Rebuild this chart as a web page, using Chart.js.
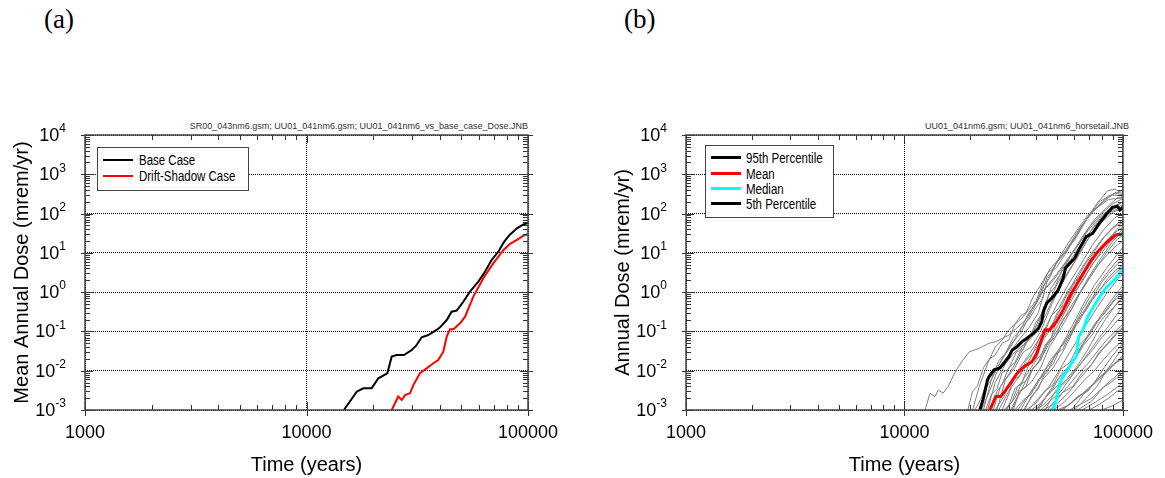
<!DOCTYPE html>
<html>
<head>
<meta charset="utf-8">
<script src="https://cdn.jsdelivr.net/npm/chart.js@4.4.1/dist/chart.umd.min.js"></script>
<style>
  body { margin:0; background:#fff; width:1165px; height:478px; position:relative; overflow:hidden;
         font-family:"Liberation Sans", Arial, sans-serif; }
  canvas { position:absolute; top:0; }
  .tag { position:absolute; top:4px; font-family:"Liberation Serif","Times New Roman",serif; font-size:27px; }
  .src { position:absolute; top:121px; font-size:9px; color:#333; white-space:nowrap; transform:translateX(-100%); }
  .legend { position:absolute; border:1px solid #444; background:#fff; font-size:14px; }
  .legend .row { position:absolute; left:0; height:16px; line-height:16px; white-space:nowrap; }
  .legend .swatch { position:absolute; left:5px; width:30px; }
  .legend .lbl { position:absolute; display:inline-block; transform:scaleX(0.82); transform-origin:0 50%; }
</style>
</head>
<body>
<div class="tag" style="left:44px">(a)</div>
<div class="tag" style="left:624px">(b)</div>
<div class="src" style="left:528px">SR00_043nm6.gsm; UU01_041nm6.gsm; UU01_041nm6_vs_base_case_Dose.JNB</div>
<div class="src" style="left:1129px">UU01_041nm6.gsm; UU01_041nm6_horsetail.JNB</div>
<canvas id="chart-a" width="582" height="478" style="left:0"></canvas>
<canvas id="chart-b" width="583" height="478" style="left:582px"></canvas>

<div class="legend" style="left:97px;top:147px;width:150px;height:42px">
  <div class="row" style="top:4px"><span class="swatch" style="top:7px;height:2px;background:#000"></span><span class="lbl" style="left:41px">Base Case</span></div>
  <div class="row" style="top:20px"><span class="swatch" style="top:7px;height:2px;background:#f00"></span><span class="lbl" style="left:41px">Drift-Shadow Case</span></div>
</div>
<div class="legend" style="left:705px;top:145px;width:127px;height:71px">
  <div class="row" style="top:4px"><span class="swatch" style="top:6px;height:3px;background:#000"></span><span class="lbl" style="left:40px">95th Percentile</span></div>
  <div class="row" style="top:20px"><span class="swatch" style="top:6px;height:3px;background:#f00"></span><span class="lbl" style="left:40px">Mean</span></div>
  <div class="row" style="top:35px"><span class="swatch" style="top:6px;height:3px;background:#0ff"></span><span class="lbl" style="left:40px">Median</span></div>
  <div class="row" style="top:50px"><span class="swatch" style="top:6px;height:3px;background:#000"></span><span class="lbl" style="left:40px">5th Percentile</span></div>
</div>

<script>
// ---- axes ----
const timeTicks = [1000, 10000, 100000];
const doseTicks = [1e-3, 1e-2, 1e-1, 1e0, 1e1, 1e2, 1e3, 1e4];

// ---- (a) mean annual dose, [years, mrem/yr] ----
const baseCase = [[14750,0.001],[16850,0.00293],[18050,0.00356],[19680,0.00356],[21090,0.0064],[23170,0.0086],
  [24240,0.0228],[25520,0.025],[27540,0.025],[29850,0.0337],[31190,0.0427],[33110,0.071],[35480,0.081],
  [38660,0.109],[40060,0.127],[42960,0.195],[45200,0.318],[47640,0.34],[51050,0.57],[54700,1.03],[59660,1.86],
  [63250,3.0],[68520,6.6],[73450,10.7],[77930,19],[82600,28.5],[89100,42],[95000,52],[100000,59]];
const driftShadow = [[24260,0.001],[25950,0.0022],[26900,0.0018],[27860,0.0024],[29330,0.00266],[30360,0.0043],
  [32540,0.0086],[34880,0.0115],[37360,0.0155],[39350,0.0186],[41460,0.0305],[42960,0.074],[44460,0.113],
  [46050,0.113],[49350,0.161],[52000,0.238],[56640,0.77],[62850,2.25],[69660,5.4],[77360,11.7],[83000,17],
  [89100,21.5],[95000,27],[100000,30]];

// ---- (b) horsetail statistics ----
const pct95 = [[22130,0.001],[22900,0.00187],[23980,0.0058],[24380,0.0071],[25700,0.0105],[27270,0.0116],
  [28510,0.0155],[30060,0.0228],[31130,0.0338],[32800,0.041],[34520,0.055],[36380,0.067],[38990,0.09],
  [41060,0.12],[42500,0.177],[43240,0.318],[44780,0.52],[47990,0.77],[50500,1.13],[53210,2.25],[54560,4.05],
  [57050,5.4],[60100,7.3],[63290,13],[67880,25.9],[72700,31.6],[77910,56],[83490,92],[89470,145],[94250,155],
  [96800,123],[100000,145]];
const meanDose = [[24560,0.001],[26170,0.0022],[27560,0.0022],[29040,0.0032],[30580,0.0048],[32800,0.0086],
  [35080,0.0125],[38280,0.017],[40350,0.0277],[41790,0.05],[43980,0.109],[46350,0.112],[49660,0.177],
  [53210,0.35],[58040,0.93],[64430,2.48],[70240,5.4],[76630,10.7],[84950,19.2],[92600,28.5],[100000,30]];
const medianDose = [[47990,0.001],[50230,0.00266],[51400,0.0048],[53210,0.0071],[56080,0.0105],[59060,0.0187],
  [61150,0.0228],[62720,0.074],[65530,0.109],[69010,0.238],[72650,0.39],[76530,0.63],[82040,1.13],
  [87900,1.68],[94250,2.48],[100000,4.3]];
const pct05 = [];

// individual realizations (grey)
const realizations = [
  [[12420,0.001],[13090,0.00266],[13780,0.0022],[14270,0.0032],[15030,0.0027],[15850,0.004],[17270,0.0105],
   [18510,0.0187],[19830,0.0305],[21980,0.037],[24380,0.05],[26170,0.055],[30000,0.08],[36000,0.2],[42000,0.9],
   [50000,3],[60000,12],[70000,40],[80000,90],[90000,150],[100000,200]],
  [[20500,0.001],[22000,0.004],[24000,0.015],[26000,0.04],[28000,0.06],[30000,0.11],[32000,0.15],[35000,0.24],
   [40000,0.6],[43000,1.7],[46000,3.7],[52000,8],[60000,21],[68000,70],[76000,180],[85000,380],[92000,420],
   [96000,360],[100000,400]],
  [[23000,0.001],[25000,0.006],[28000,0.02],[31000,0.05],[34000,0.09],[38000,0.3],[42000,0.8],[45000,2.5],
   [50000,4.5],[56000,12],[63000,40],[72000,110],[82000,220],[92000,330],[100000,300]],
  [[22500,0.001],[24500,0.003],[27000,0.012],[30000,0.025],[34000,0.07],[37000,0.12],[41000,0.3],[44000,1.2],
   [48000,2],[54000,5],[62000,15],[70000,45],[80000,100],[90000,180],[100000,240]],
  [[25500,0.001],[27500,0.004],[30000,0.008],[33000,0.02],[36000,0.05],[40000,0.09],[44000,0.25],[48000,0.7],
   [53000,2],[60000,6],[68000,20],[78000,60],[88000,120],[100000,170]],
  [[27000,0.001],[30000,0.003],[33000,0.01],[37000,0.025],[41000,0.06],[45000,0.15],[50000,0.5],[56000,1.5],
   [64000,5],[72000,15],[82000,40],[92000,80],[100000,100]],
  [[29000,0.001],[32000,0.002],[35000,0.006],[39000,0.015],[43000,0.03],[47000,0.07],[52000,0.2],[58000,0.6],
   [65000,2],[74000,6],[84000,18],[94000,40],[100000,55]],
  [[31000,0.001],[34000,0.003],[38000,0.005],[42000,0.012],[46000,0.04],[51000,0.1],[57000,0.3],[63000,0.9],
   [70000,2.5],[80000,8],[90000,20],[100000,35]],
  [[33000,0.001],[36000,0.002],[40000,0.004],[44000,0.01],[48000,0.02],[53000,0.05],[59000,0.15],[66000,0.5],
   [74000,1.5],[84000,4],[94000,9],[100000,14]],
  [[35000,0.001],[39000,0.0025],[43000,0.006],[48000,0.012],[53000,0.03],[58000,0.08],[64000,0.25],[72000,0.7],
   [80000,1.8],[90000,4],[100000,7]],
  [[37000,0.001],[41000,0.002],[46000,0.004],[51000,0.01],[56000,0.025],[62000,0.06],[68000,0.15],[76000,0.4],
   [85000,1],[95000,2.2],[100000,3]],
  [[40000,0.001],[44000,0.002],[49000,0.005],[54000,0.009],[60000,0.02],[66000,0.05],[73000,0.12],[82000,0.3],
   [92000,0.7],[100000,1.2]],
  [[42000,0.001],[47000,0.0018],[52000,0.003],[58000,0.007],[64000,0.015],[70000,0.03],[78000,0.07],[87000,0.15],
   [95000,0.3],[100000,0.45]],
  [[45000,0.001],[50000,0.002],[56000,0.004],[62000,0.008],[69000,0.015],[76000,0.03],[84000,0.06],[92000,0.1],
   [100000,0.15]],
  [[48000,0.001],[54000,0.0016],[60000,0.003],[67000,0.006],[74000,0.01],[82000,0.02],[90000,0.035],[100000,0.06]],
  [[52000,0.001],[58000,0.0015],[65000,0.0025],[72000,0.004],[80000,0.007],[88000,0.012],[95000,0.018],[100000,0.025]],
  [[57000,0.001],[64000,0.0014],[72000,0.002],[80000,0.0035],[88000,0.005],[100000,0.009]],
  [[65000,0.001],[75000,0.0016],[85000,0.0025],[95000,0.004],[100000,0.005]],
  [[24000,0.001],[26000,0.005],[29000,0.015],[32000,0.03],[35000,0.045],[39000,0.1],[43000,0.35],[47000,1.3],
   [52000,3],[58000,9],[65000,25],[74000,70],[84000,140],[94000,250],[100000,260]],
  [[26500,0.001],[29000,0.006],[32000,0.012],[35000,0.03],[38000,0.04],[42000,0.1],[46000,0.35],[50000,1],
   [56000,3],[63000,9],[71000,28],[80000,60],[90000,110],[100000,130]],
  [[28000,0.001],[31000,0.004],[35000,0.01],[39000,0.03],[44000,0.08],[49000,0.2],[55000,0.8],[62000,2.8],
   [70000,8],[80000,22],[90000,45],[100000,70]],
  [[30500,0.001],[34000,0.003],[38000,0.01],[42000,0.02],[47000,0.06],[52000,0.15],[58000,0.45],[65000,1.2],
   [74000,3.5],[84000,10],[94000,22],[100000,28]],
  [[34000,0.001],[38000,0.003],[42000,0.007],[47000,0.02],[52000,0.04],[58000,0.1],[65000,0.35],[72000,0.9],
   [82000,2.5],[92000,5.5],[100000,9]],
  [[38000,0.001],[42000,0.0015],[47000,0.003],[52000,0.008],[58000,0.015],[64000,0.04],[71000,0.09],[79000,0.25],
   [88000,0.6],[100000,1.5]],
  [[44000,0.001],[49000,0.003],[55000,0.006],[61000,0.012],[68000,0.03],[75000,0.08],[83000,0.2],[92000,0.45],
   [100000,0.8]],
  [[60000,0.001],[68000,0.002],[76000,0.004],[84000,0.01],[92000,0.02],[100000,0.04]],
  [[21000,0.001],[22500,0.002],[24000,0.006],[26000,0.009],[28000,0.02],[31000,0.045],[34000,0.12],[37000,0.2],
   [40000,0.4],[43000,0.7],[45000,2],[49000,5],[55000,11],[62000,30],[70000,90],[78000,200],[88000,300],[100000,280]],
  [[19500,0.001],[20500,0.003],[21500,0.004],[23000,0.012],[24500,0.02],[26000,0.025],[28000,0.05],[30000,0.06],
   [32000,0.15],[34000,0.25],[36000,0.3],[39000,0.8],[42000,1.5],[45000,3],[48000,4],[52000,9],[57000,20],
   [63000,45],[70000,100],[78000,160],[86000,260],[93000,350],[100000,330]],
  [[23500,0.001],[25000,0.0025],[26500,0.0035],[28000,0.009],[30000,0.011],[32500,0.03],[35000,0.035],[38000,0.09],
   [41000,0.15],[43500,0.45],[46000,0.6],[50000,1.6],[55000,4],[60000,7],[66000,18],[73000,45],[81000,90],
   [90000,140],[100000,200]],
  [[26000,0.001],[28500,0.0022],[31000,0.006],[33500,0.007],[36000,0.018],[39000,0.03],[42000,0.08],[44000,0.1],
   [47000,0.25],[51000,0.4],[56000,1.1],[61000,2],[67000,5],[74000,11],[82000,25],[91000,45],[100000,60]],
  [[28500,0.001],[31000,0.0016],[33000,0.004],[36000,0.0055],[39000,0.012],[42000,0.018],[45000,0.05],[49000,0.07],
   [53000,0.2],[58000,0.35],[64000,1],[70000,2.2],[77000,5],[85000,9],[93000,15],[100000,20]],
  [[32000,0.001],[35000,0.0018],[38000,0.0025],[41000,0.006],[45000,0.009],[49000,0.025],[53000,0.035],[58000,0.1],
   [63000,0.18],[69000,0.45],[76000,0.9],[84000,2],[92000,3.5],[100000,5]],
  [[36000,0.001],[40000,0.0015],[44000,0.003],[48000,0.0045],[52000,0.011],[57000,0.016],[62000,0.04],[68000,0.07],
   [75000,0.17],[83000,0.3],[91000,0.6],[100000,0.9]],
  [[39000,0.001],[43000,0.0013],[47000,0.0022],[51000,0.0035],[56000,0.006],[61000,0.011],[67000,0.02],[73000,0.035],
   [80000,0.07],[88000,0.12],[95000,0.2],[100000,0.25]],
  [[43000,0.001],[48000,0.0014],[53000,0.0028],[59000,0.004],[65000,0.009],[71000,0.013],[78000,0.03],[86000,0.05],
   [94000,0.09],[100000,0.12]],
  [[50000,0.001],[56000,0.0013],[62000,0.0022],[69000,0.003],[76000,0.006],[84000,0.009],[92000,0.016],[100000,0.022]],
  [[70000,0.001],[78000,0.0014],[86000,0.002],[94000,0.003],[100000,0.0035]],
  [[80000,0.001],[90000,0.0013],[100000,0.0018]],
  [[31500,0.001],[33500,0.003],[36000,0.004],[38500,0.011],[41000,0.016],[44000,0.045],[47000,0.07],[50000,0.2],
   [54000,0.3],[59000,0.9],[65000,1.8],[72000,5],[80000,10],[89000,22],[100000,40]],
  [[25000,0.001],[26500,0.003],[28000,0.0045],[30000,0.012],[32000,0.016],[34500,0.04],[37000,0.06],[40000,0.17],
   [43000,0.3],[46000,0.9],[49000,1.4],[53000,4],[58000,7],[64000,16],[71000,35],[79000,70],[88000,110],[100000,150]],
  [[22000,0.001],[23500,0.0035],[25000,0.006],[27000,0.018],[29000,0.028],[31500,0.07],[34000,0.11],[37000,0.3],
   [40000,0.5],[43000,1.4],[46000,2.2],[50000,6],[55000,12],[61000,30],[68000,70],[76000,140],[86000,230],[100000,250]],
  [[46000,0.001],[51000,0.0016],[57000,0.003],[63000,0.006],[70000,0.012],[77000,0.025],[85000,0.05],[93000,0.09],
   [100000,0.13]],
  [[53000,0.001],[60000,0.0018],[67000,0.003],[74000,0.005],[82000,0.009],[91000,0.015],[100000,0.02]],
  [[41000,0.001],[45000,0.0025],[50000,0.004],[55000,0.01],[60000,0.018],[66000,0.045],[72000,0.08],[80000,0.2],
   [88000,0.35],[100000,0.7]],
  [[35500,0.001],[38000,0.0022],[41000,0.0035],[44000,0.009],[48000,0.015],[52000,0.04],[57000,0.07],[62000,0.2],
   [68000,0.35],[75000,0.9],[83000,1.6],[92000,3],[100000,4.5]],
  [[29500,0.001],[32000,0.0035],[34500,0.005],[37000,0.014],[40000,0.02],[43000,0.06],[46000,0.1],[50000,0.3],
   [54000,0.5],[59000,1.5],[65000,3],[72000,8],[80000,15],[90000,30],[100000,45]],
  [[58000,0.001],[66000,0.0025],[74000,0.005],[82000,0.012],[90000,0.025],[100000,0.05]],
  [[62000,0.001],[72000,0.0017],[82000,0.004],[92000,0.007],[100000,0.011]]
];

const pts = arr => arr.map(([t, d]) => ({ x: t, y: d }));

// frame, inward minor ticks, and 10^n labels
const frameTicks = {
  id: 'frameTicks',
  afterDraw(chart) {
    const { ctx, chartArea: { left, right, top, bottom }, scales: { x, y } } = chart;
    ctx.save();
    ctx.strokeStyle = '#333';
    ctx.lineWidth = 1;
    ctx.beginPath();
    for (let e = -3; e < 4; e++) {
      for (let m = 2; m < 10; m++) {
        const py = Math.round(y.getPixelForValue(m * Math.pow(10, e))) + 0.5;
        ctx.moveTo(left, py); ctx.lineTo(left + 5, py);
        ctx.moveTo(right, py); ctx.lineTo(right - 5, py);
      }
    }
    doseTicks.forEach(v => {
      const py = Math.round(y.getPixelForValue(v)) + 0.5;
      ctx.moveTo(left - 4, py); ctx.lineTo(left + 8, py);
      ctx.moveTo(right + 5, py); ctx.lineTo(right - 8, py);
    });
    for (let e = 3; e < 5; e++) {
      for (let m = 2; m < 10; m++) {
        const px = Math.round(x.getPixelForValue(m * Math.pow(10, e))) + 0.5;
        ctx.moveTo(px, bottom); ctx.lineTo(px, bottom - 5);
        ctx.moveTo(px, top); ctx.lineTo(px, top + 5);
      }
    }
    timeTicks.forEach(v => {
      const px = Math.round(x.getPixelForValue(v)) + 0.5;
      ctx.moveTo(px, bottom + 6); ctx.lineTo(px, bottom - 8);
      ctx.moveTo(px, top); ctx.lineTo(px, top + 8);
    });
    ctx.stroke();

    ctx.lineWidth = 1.5;
    ctx.strokeStyle = '#444';
    ctx.strokeRect(left, top, right - left, bottom - top);

    ctx.fillStyle = '#000';
    ctx.textBaseline = 'middle';
    ctx.textAlign = 'right';
    doseTicks.forEach(v => {
      const py = y.getPixelForValue(v);
      const ex = String(Math.round(Math.log10(v)));
      ctx.font = '12px "Liberation Sans", Arial, sans-serif';
      const ew = ctx.measureText(ex).width;
      ctx.fillText(ex, left - 19, py - 6);
      ctx.font = '18px "Liberation Sans", Arial, sans-serif';
      ctx.fillText('10', left - 19 - ew, py + 1);
    });
    ctx.restore();
  }
};

function makeChart(id, datasets, yTitle, padLeft, padRight) {
  return new Chart(document.getElementById(id), {
    type: 'line',
    data: { datasets },
    options: {
      responsive: false, animation: false, events: [],
      layout: { padding: { top: 135, left: padLeft, right: padRight, bottom: 0 } },
      elements: { point: { radius: 0 }, line: { tension: 0 } },
      plugins: { legend: { display: false }, tooltip: { enabled: false } },
      scales: {
        x: {
          type: 'logarithmic', min: 1000, max: 100000,
          afterBuildTicks: s => { s.ticks = timeTicks.map(v => ({ value: v })); },
          afterFit: s => { s.height = 68; },
          ticks: { autoSkip: false, maxRotation: 0, padding: 12, color: '#000',
                   font: { size: 18, family: '"Liberation Sans", Arial, sans-serif' },
                   callback: v => String(v) },
          grid: { color: '#000', lineWidth: 1, drawTicks: false },
          border: { display: false, dash: [1, 1] },
          title: { display: true, text: 'Time (years)', color: '#000', padding: { top: 0, bottom: 1 },
                   font: { size: 20, family: '"Liberation Sans", Arial, sans-serif' } }
        },
        y: {
          type: 'logarithmic', min: 1e-3, max: 1e4,
          afterBuildTicks: s => { s.ticks = doseTicks.map(v => ({ value: v })); },
          afterFit: s => { s.width = 85; },
          ticks: { display: false },
          grid: { color: '#000', lineWidth: 1, drawTicks: false },
          border: { display: false, dash: [1, 1] },
          title: { display: true, text: yTitle, color: '#000', padding: { top: 10, bottom: 0 },
                   font: { size: 20, family: '"Liberation Sans", Arial, sans-serif' } }
        }
      }
    },
    plugins: [frameTicks]
  });
}

makeChart('chart-a', [
  { label: 'Base Case', data: pts(baseCase), borderColor: '#000', borderWidth: 2 },
  { label: 'Drift-Shadow Case', data: pts(driftShadow), borderColor: '#f00', borderWidth: 2 }
], 'Mean Annual Dose (mrem/yr)', 0, 54);

makeChart('chart-b', [
  { label: '95th Percentile', data: pts(pct95), borderColor: '#000', borderWidth: 3, order: 0 },
  { label: 'Mean', data: pts(meanDose), borderColor: '#f00', borderWidth: 3, order: 0 },
  { label: 'Median', data: pts(medianDose), borderColor: '#0ff', borderWidth: 3, order: 0 },
  { label: '5th Percentile', data: pts(pct05), borderColor: '#000', borderWidth: 3, order: 0 },
  ...realizations.map((r, i) => ({ label: 'R' + (i + 1), data: pts(r), borderColor: '#808080', borderWidth: 1, order: 5 }))
], 'Annual Dose (mrem/yr)', 19, 36);
</script>
</body>
</html>
